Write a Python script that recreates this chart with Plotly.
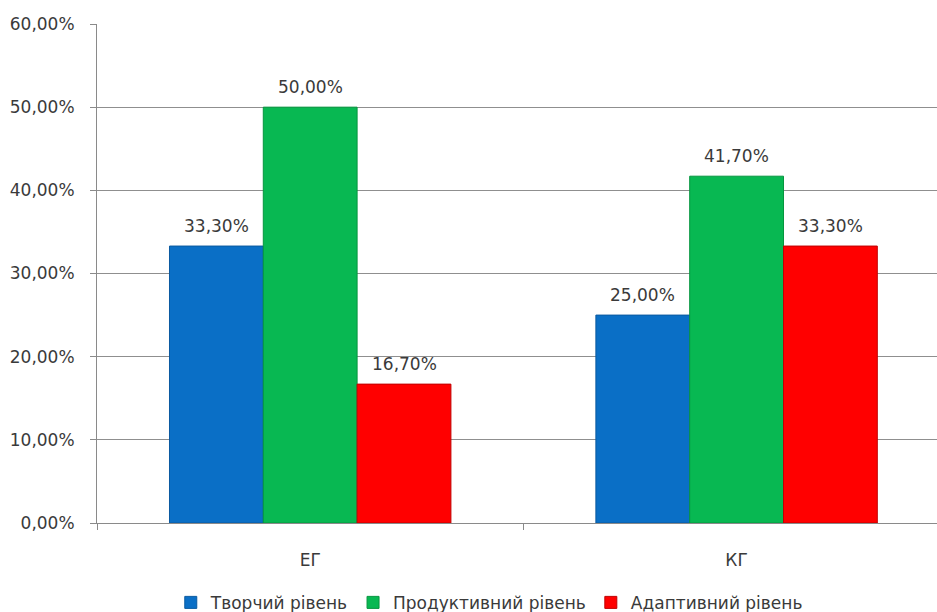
import plotly.graph_objects as go

categories = ["ЕГ", "КГ"]
series_names = ["Творчий рівень", "Продуктивний рівень", "Адаптивний рівень"]
creative = [33.3, 25.0]
productive = [50.0, 41.7]
adaptive = [16.7, 33.3]
y_ticks = [0, 10, 20, 30, 40, 50, 60]

series_values = [creative, productive, adaptive]
colors = ["#0a6fc6", "#08b852", "#ff0000"]
edges = ["#0a5aa0", "#06963f", "#c00000"]

FONT = "DejaVu Sans"
TXT = "#3a3a3a"
FS = 17

fig = go.Figure()
for name, vals, c, e in zip(series_names, series_values, colors, edges):
    fig.add_trace(go.Bar(
        name=name, x=categories, y=vals,
        marker=dict(color=c, line=dict(color=e, width=1)),
    ))

bar_w = 0.22
annotations = []
for k, vals in enumerate(series_values):
    for i, v in enumerate(vals):
        annotations.append(dict(
            x=i + (k - 1) * bar_w, y=v, xref="x", yref="y",
            text=f"{v:.2f}".replace(".", ",") + "%",
            showarrow=False, yanchor="middle", yshift=20,
            font=dict(family=FONT, size=FS, color=TXT),
        ))

fig.update_layout(
    width=937, height=612,
    margin=dict(l=97, r=0, t=24, b=89, autoexpand=False),
    paper_bgcolor="white", plot_bgcolor="white",
    barmode="group", bargap=0.34, bargroupgap=0,
    separators=", ",
    font=dict(family=FONT, size=FS, color=TXT),
    showlegend=True,
    legend=dict(orientation="h", x=0.467, xanchor="center", y=-0.16, yanchor="middle",
                font=dict(family=FONT, size=FS, color=TXT), itemwidth=30),
    annotations=annotations,
)
fig.update_xaxes(
    type="category", range=[-0.5, 1.47], automargin=False,
    showline=True, linecolor="#8a8a8a", linewidth=1,
    ticks="outside", tickson="boundaries", ticklen=6, tickcolor="#8a8a8a",
    ticklabelstandoff=22, showgrid=False,
    tickfont=dict(family=FONT, size=FS, color=TXT),
)
fig.update_yaxes(
    range=[0, 60], tickvals=y_ticks, automargin=False,
    ticktext=[f"{t:.2f}".replace(".", ",") + "%" for t in y_ticks],
    showline=True, linecolor="#8a8a8a", linewidth=1,
    ticks="outside", ticklen=6, tickcolor="#8a8a8a", ticklabelstandoff=12,
    showgrid=True, gridcolor="#8f8f8f", gridwidth=1, zeroline=False,
    tickfont=dict(family=FONT, size=FS, color=TXT),
)

fig.write_html("out.html")
